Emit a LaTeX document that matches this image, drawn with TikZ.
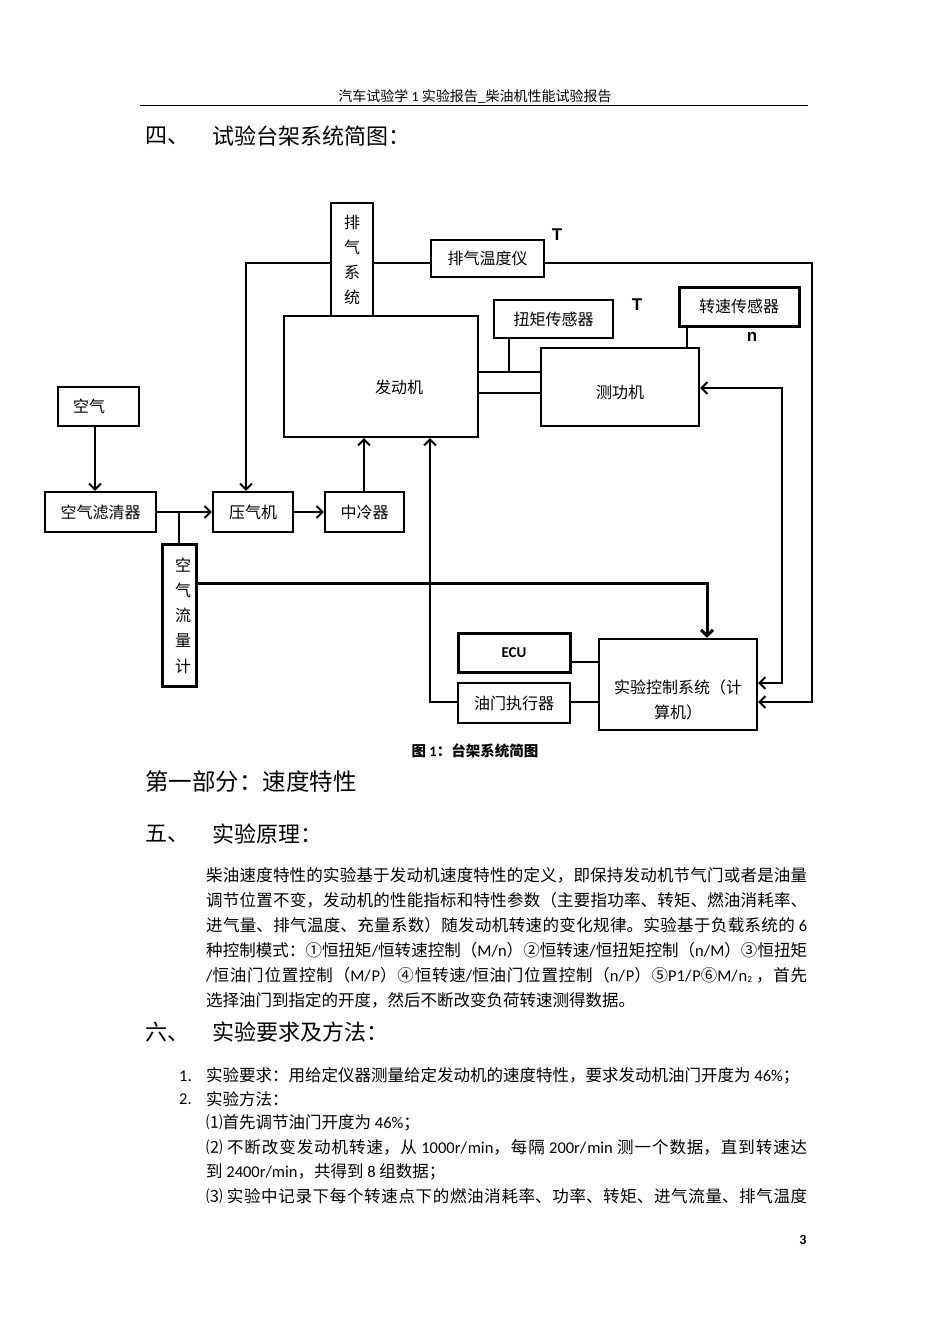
\documentclass[tikz,border=0pt]{standalone}
\usepackage{fontspec}
\setmainfont{Noto Sans CJK SC}
\newfontfamily\lat{Carlito}
\newfontfamily\arl{Liberation Sans}
\usetikzlibrary{arrows.meta}
\XeTeXlinebreaklocale "zh"
\XeTeXlinebreakskip=0pt plus 3pt minus 1pt
\newcommand\fsz[1]{\fontsize{#1}{#1}\selectfont}
\newcommand\jl[1]{\parbox{601pt}{\tolerance=10000\parfillskip=0pt\noindent #1}}
\begin{document}
\begin{tikzpicture}[x=1pt,y=-1pt,
  box/.style={draw, line width=2.1pt, inner sep=0pt, font=\fsz{16}},
  thk/.style={box, line width=3pt},
  ln/.style={line width=2pt},
  arr/.style={ln, -{Straight Barb[length=6pt,width=12pt]}},
  darr/.style={ln, {Straight Barb[length=6pt,width=12pt]}-{Straight Barb[length=6pt,width=12pt]}},
  lbl/.style={font=\fsz{16}, inner sep=0pt},
  txt/.style={anchor=west, inner sep=0pt, font=\fsz{16.5}},
  head/.style={anchor=west, inner sep=0pt, font=\fsz{22}},
  sym/.style={font=\arl\bfseries\fsz{17}, inner sep=0pt},
]
\useasboundingbox[fill=white] (0,0) rectangle (950,1344);

% page header
\node[inner sep=0pt, font=\fsz{14}] (hdr) at (475,97) {汽车试验学 {\lat 1} 实验报告\_柴油机性能试验报告};
\coordinate (hl) at (140,105);
\coordinate (hr) at (808,105);
\draw[line width=1pt] (hl) -- (hr);

\node[head] (h4a) at (145,136) {四、};
\node[head] (h4b) at (212,136) {试验台架系统简图：};

% ---------- diagram ----------
\node[box, minimum width=42pt, minimum height=113pt, align=center, font=\fontsize{16}{25}\selectfont] (exh) at (352,259.5) {排\\气\\系\\统};
\node[box, minimum width=113pt, minimum height=37pt] (temp) at (487.5,258.5) {排气温度仪};
\node[box, minimum width=119pt, minimum height=38pt] (torque) at (553.5,319) {扭矩传感器};
\node[thk, minimum width=120pt, minimum height=39pt] (speed) at (739,306.5) {转速传感器};
\node[box, minimum width=194pt, minimum height=121pt] (engine) at (381,376.5) {};
\node[lbl] (enginet) at (399,387) {发动机};
\node[box, minimum width=158pt, minimum height=78pt] (dyn) at (620,387) {};
\node[lbl] (dynt) at (620,392) {测功机};
\node[box, minimum width=63pt, minimum height=21pt] (shaft) at (509.5,382.5) {};

\node[box, minimum width=81pt, minimum height=39pt] (air) at (98.5,406.5) {};
\node[lbl] (airt) at (89,406) {空气};
\node[box, minimum width=111pt, minimum height=40pt] (filter) at (100.5,512) {空气滤清器};
\node[box, minimum width=80pt, minimum height=40pt] (comp) at (253,512) {压气机};
\node[box, minimum width=79pt, minimum height=40pt] (cooler) at (364.5,512) {中冷器};
\node[thk, minimum width=34pt, minimum height=142pt] (flow) at (179,615) {};
\node[lbl, align=center, font=\fontsize{16}{25.2}\selectfont] (flowt) at (183,615.5) {空\\气\\流\\量\\计};

\node[thk, minimum width=112pt, minimum height=39pt, font=\lat\bfseries\fsz{15}] (ecu) at (514,652.5) {ECU};
\node[box, minimum width=112pt, minimum height=40pt] (act) at (514,703) {油门执行器};
\node[box, minimum width=158pt, minimum height=91pt] (ctrl) at (678,684.5) {};
\node[lbl, align=center, font=\fontsize{16}{25}\selectfont] (ctrlt) at (678,699.5) {实验控制系统（计\\算机）};

\node[sym] (t1) at (557,235) {T};
\node[sym] (t2) at (637,305) {T};
\node[sym] (nn) at (752,337) {n};

% connectors
\coordinate (tl) at (246,262.5);
\draw[arr] (exh.west |- tl) -- (tl) -- (tl |- comp.north);
\draw[ln] (exh.east |- tl) -- (temp.west |- tl);
\coordinate (tr) at (812,262.5);
\coordinate (br) at (812,702);
\draw[arr] (temp.east |- tr) -- (tr) -- (br) -- (ctrl.east |- br);
\coordinate (dr) at (782,388);
\coordinate (dbr) at (782,683);
\draw[darr] (dyn.east |- dr) -- (dr) -- (dbr) -- (ctrl.east |- dbr);
\coordinate (tq) at (509,0);
\draw[ln] (tq |- torque.south) -- (tq |- shaft.north);
\coordinate (sp) at (687,0);
\draw[ln] (sp |- speed.south) -- (sp |- dyn.north);
\coordinate (ax) at (95,0);
\draw[arr] (ax |- air.south) -- (ax |- filter.north);
\draw[arr] (filter.east) -- (comp.west);
\draw[ln] (flow.north |- filter.east) -- (flow.north);
\draw[arr] (comp.east) -- (cooler.west);
\coordinate (cx) at (364,0);
\draw[arr] (cx |- cooler.north) -- (cx |- engine.south);
\coordinate (fc) at (707,583);
\draw[arr, line width=3pt] (flow.east |- fc) -- (fc) -- (fc |- ctrl.north);
\coordinate (ae) at (430,702);
\draw[arr] (act.west |- ae) -- (ae) -- (ae |- engine.south);
\coordinate (ec) at (0,662);
\draw[ln] (ecu.east |- ec) -- (ctrl.west |- ec);
\draw[ln] (act.east |- ae) -- (ctrl.west |- ae);

\node[inner sep=0pt, font=\bfseries\fsz{14.5}] (cap) at (475,751) {图 {\lat 1}：台架系统简图};

% ---------- text ----------
\node[anchor=west, inner sep=0pt, font=\fsz{23.5}] (p1) at (145,782) {第一部分：速度特性};
\node[head] (h5a) at (145,834) {五、};
\node[head] (h5b) at (212,834) {实验原理：};

\node[txt] (l1) at (206,875) {\jl{柴油速度特性的实验基于发动机速度特性的定义，即保持发动机节气门或者是油量}};
\node[txt] (l2) at (206,900) {\jl{调节位置不变，发动机的性能指标和特性参数（主要指功率、转矩、燃油消耗率、}};
\node[txt] (l3) at (206,925) {\jl{进气量、排气温度、充量系数）随发动机转速的变化规律。实验基于负载系统的{\lat\ 6}}};
\node[txt] (l4) at (206,950) {\jl{种控制模式：①恒扭矩{\lat /}恒转速控制（{\lat M/n}）②恒转速{\lat /}恒扭矩控制（{\lat n/M}）③恒扭矩}};
\node[txt] (l5) at (206,975) {\jl{{\lat /}恒油门位置控制（{\lat M/P}）④恒转速{\lat /}恒油门位置控制（{\lat n/P}）⑤{\lat P1/P}⑥{\lat M/n\raisebox{-1pt}{\fsz{9}2}}{\lat\ }，首先}};
\node[txt] (l6) at (206,1000) {选择油门到指定的开度，然后不断改变负荷转速测得数据。};

\node[head] (h6a) at (145,1032) {六、};
\node[head] (h6b) at (212,1032) {实验要求及方法：};

\node[txt, font=\lat\fsz{16.5}] (n1) at (179,1076) {1.};
\node[txt] (m1) at (206,1076) {实验要求：用给定仪器测量给定发动机的速度特性，要求发动机油门开度为 {\lat 46\%}；};
\node[txt, font=\lat\fsz{16.5}] (n2) at (179,1099) {2.};
\node[txt] (m2) at (206,1099) {实验方法：};
\node[txt] (m3) at (206,1123) {⑴首先调节油门开度为 {\lat 46\%}；};
\node[txt] (m4) at (206,1147) {\jl{⑵{\lat\ }不断改变发动机转速，从{\lat\ 1000r/min}，每隔{\lat\ 200r/min\ }测一个数据，直到转速达}};
\node[txt] (m5) at (206,1172) {到 {\lat 2400r/min}，共得到 {\lat 8} 组数据；};
\node[txt] (m6) at (206,1196) {\jl{⑶{\lat\ }实验中记录下每个转速点下的燃油消耗率、功率、转矩、进气流量、排气温度}};

\node[inner sep=0pt, font=\lat\bfseries\fsz{14}] (pg) at (803,1240) {3};
\end{tikzpicture}
\end{document}
